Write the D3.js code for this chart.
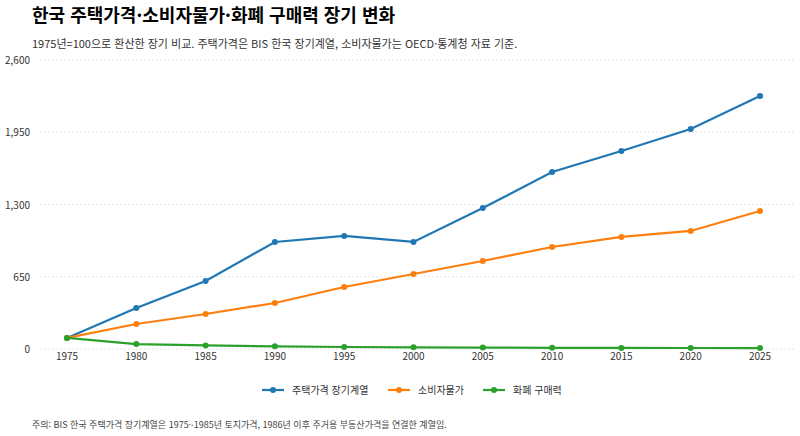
<!DOCTYPE html>
<html lang="ko">
<head>
<meta charset="UTF-8" />
<style>
  body { margin: 0; background: #fff; font-family: "Noto Sans CJK KR", "Noto Sans", sans-serif; }
</style>
</head>
<body>
<svg width="800" height="436"></svg>
<script src="https://cdn.jsdelivr.net/npm/d3@7"></script>
<script>
  var years = [1975, 1980, 1985, 1990, 1995, 2000, 2005, 2010, 2015, 2020, 2025];
  var housing = [100, 369, 612, 963, 1017, 963, 1268, 1592, 1781, 1979, 2276];
  var cpi = [100, 225, 315, 414, 558, 675, 792, 918, 1008, 1062, 1242];
  var money = [100, 44, 32, 24, 18, 15, 13, 11, 10, 9, 8];
  var yTicks = [0, 650, 1300, 1950, 2600];
  var names = ["주택가격 장기계열", "소비자물가", "화폐 구매력"];
  var colors = ["#1f77b4", "#ff7f0e", "#2ca02c"];

  var svg = d3.select("svg");
  var x = d3.scaleLinear().domain([1975, 2025]).range([67, 760]);
  var y = d3.scaleLinear().domain([0, 2600]).range([349, 60]);

  svg.append("text").attr("x", 32).attr("y", 22).attr("font-size", 18).attr("font-weight", 700)
    .text("한국 주택가격·소비자물가·화폐 구매력 장기 변화");
  svg.append("text").attr("x", 32).attr("y", 48).attr("font-size", 11).attr("fill", "#333")
    .text("1975년=100으로 환산한 장기 비교. 주택가격은 BIS 한국 장기계열, 소비자물가는 OECD·통계청 자료 기준.");

  svg.selectAll(".grid").data(yTicks).join("line")
    .attr("x1", 40).attr("x2", 795)
    .attr("y1", d => y(d)).attr("y2", d => y(d))
    .attr("stroke", "#ddd").attr("stroke-dasharray", "2,2").attr("stroke-width", 0.8);

  svg.selectAll(".yl").data(yTicks).join("text")
    .attr("x", 30).attr("y", d => y(d) + 4).attr("text-anchor", "end")
    .attr("font-size", 10).attr("fill", "#333").text(d => d3.format(",")(d));

  svg.selectAll(".xl").data(years).join("text")
    .attr("x", d => x(d)).attr("y", 360).attr("text-anchor", "middle")
    .attr("font-size", 10).attr("fill", "#333").text(d => d);

  var line = d3.line().x((d, i) => x(years[i])).y(d => y(d));
  [housing, cpi, money].forEach(function (s, k) {
    svg.append("path").datum(s).attr("d", line).attr("fill", "none")
      .attr("stroke", colors[k]).attr("stroke-width", 2.2);
    svg.selectAll(".p" + k).data(s).join("circle")
      .attr("cx", (d, i) => x(years[i])).attr("cy", d => y(d)).attr("r", 3)
      .attr("fill", colors[k]);
  });

  var lx = [262, 388, 483];
  names.forEach(function (n, k) {
    var g = svg.append("g").attr("transform", "translate(" + lx[k] + ",390)");
    g.append("line").attr("x1", 0).attr("x2", 22).attr("stroke", colors[k]).attr("stroke-width", 2.2);
    g.append("circle").attr("cx", 11).attr("r", 3).attr("fill", colors[k]);
    g.append("text").attr("x", 30).attr("y", 4).attr("font-size", 10).attr("fill", "#333").text(n);
  });

  svg.append("text").attr("x", 32).attr("y", 428).attr("font-size", 9).attr("fill", "#444")
    .text("주의: BIS 한국 주택가격 장기계열은 1975~1985년 토지가격, 1986년 이후 주거용 부동산가격을 연결한 계열임.");
</script>
</body>
</html>
